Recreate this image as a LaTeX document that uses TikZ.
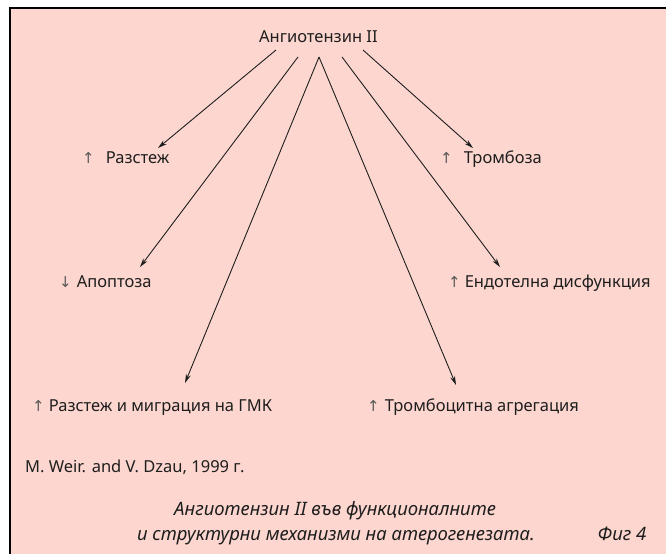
\documentclass[tikz,border=0pt]{standalone}
\usepackage{fontspec}
\setmainfont{Noto Sans}
\newfontfamily\arrfont{DejaVu Sans}
\usetikzlibrary{arrows.meta}
\definecolor{panelpink}{RGB}{253,215,207}
\definecolor{inkc}{RGB}{30,30,30}
\tikzset{
  lbl/.style={anchor=base west,inner sep=0pt,text=inkc,font=\fontsize{16.5}{19}\selectfont},
  captxt/.style={anchor=base,inner sep=0pt,text=inkc,font=\fontsize{18.5}{21}\selectfont\itshape},
  conn/.style={draw=inkc,line width=0.9pt,-{Stealth[length=9pt,width=5pt]}},
}
\newcommand{\upa}{{\arrfont\color{gray!70!black}\fontsize{15}{16}\selectfont ↑}}
\newcommand{\dna}{{\arrfont\color{gray!70!black}\fontsize{15}{16}\selectfont ↓}}
\begin{document}
\begin{tikzpicture}[x=1pt,y=-1pt]
\useasboundingbox (0,0) rectangle (666,554);
\fill[white] (0,0) rectangle (666,554);
\fill[panelpink] (10,8) rectangle (666,554);
\draw[line width=1.6pt,black] (10,554) -- (10,8) -- (666,8);

\node[lbl] (title) at (259,42) {Ангиотензин II};

\coordinate (s1) at (276,50);
\coordinate (s2) at (298,57);
\coordinate (s3) at (319,57);
\coordinate (s5) at (342,57);
\coordinate (s6) at (363,50);

\coordinate (e1) at (158,148);
\coordinate (e2) at (140,267);
\coordinate (e3) at (185,383);
\coordinate (e4) at (456,385);
\coordinate (e5) at (500,267);
\coordinate (e6) at (473,148);

\node[lbl] (razst) at (82,163) {\upa\hspace{11pt}Разстеж};
\node[lbl] (tromb) at (440,163) {\upa\hspace{11pt}Тромбоза};
\node[lbl] (apopt) at (59,287) {\dna\hspace{5pt}Апоптоза};
\node[lbl] (endot) at (448,287) {\upa\hspace{4pt}Ендотелна дисфункция};
\node[lbl] (gmk) at (32,411) {\upa\hspace{4pt}Разстеж и миграция на ГМК};
\node[lbl] (agreg) at (367,411) {\upa\hspace{5pt}Тромбоцитна агрегация};

\draw[conn] (s1) -- (e1);
\draw[conn] (s2) -- (e2);
\draw[conn] (s3) -- (e3);
\draw[conn] (s3) -- (e4);
\draw[conn] (s5) -- (e5);
\draw[conn] (s6) -- (e6);

\node[lbl] (src) at (25,472) {M. Weir. and V. Dzau, 1999 г.};
\node[captxt] (cap1) at (335,515) {Ангиотензин II във функционалните};
\node[captxt] (cap2) at (336,540) {и структурни механизми на атерогенезата.};
\node[captxt] (fig) at (622,540) {Фиг 4};
\end{tikzpicture}
\end{document}
